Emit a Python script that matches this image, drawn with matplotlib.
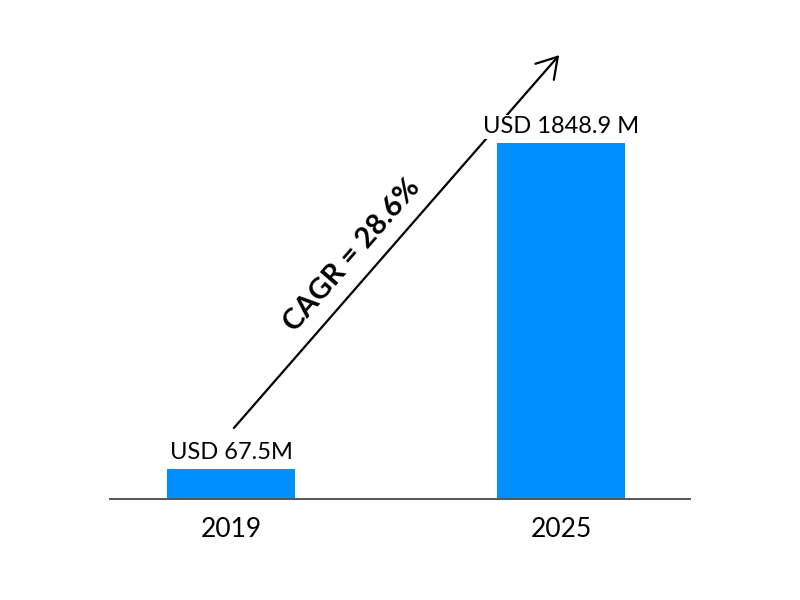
"""Market size bars 2019 vs 2025 with a CAGR arrow."""

import matplotlib.pyplot as plt
from matplotlib.patches import FancyArrowPatch

years = ['2019', '2025']
values = [67.5, 1848.9]            # USD million
value_labels = ['USD 67.5M', 'USD 1848.9 M']
# the picture does not draw the bars to scale; this is the drawn height
bar_heights = [156, 1848.9]
cagr_label = 'CAGR = 28.6%'

BAR_COLOR = '#008fff'

fig = plt.figure(figsize=(8, 6), dpi=100)
ax = fig.add_axes([110 / 800, 101 / 600, 580 / 800, 456 / 600])

x = list(range(len(years)))
ax.bar(x, bar_heights, width=0.388, color=BAR_COLOR, zorder=2)

ax.set_xlim(-0.367, 1.391)
ax.set_ylim(0, 1848.9 * 456 / 356)

# only the bottom spine is kept, as a grey baseline
for side in ('left', 'right', 'top'):
    ax.spines[side].set_visible(False)
ax.spines['bottom'].set_color('#555555')
ax.spines['bottom'].set_linewidth(1.4)
ax.set_yticks([])
ax.set_xticks(x, years, fontsize=19, family='Lato')
ax.tick_params(axis='x', length=0, pad=13)

# value labels above the bars
for xi, h, lab in zip(x, bar_heights, value_labels):
    ax.text(xi, h + 30, lab, ha='center', va='bottom', fontsize=17,
            family='Lato', zorder=4,
            bbox=dict(facecolor='white', edgecolor='none', pad=1))

# growth arrow from the first label to beyond the second bar
arrow = FancyArrowPatch((x[0] + 0.003, bar_heights[0] + 202),
                        (x[1], 2316),
                        arrowstyle='->,head_length=9,head_width=5.5',
                        mutation_scale=1.6, color='black', lw=1.6,
                        zorder=3, clip_on=False)
ax.add_patch(arrow)

ax.text(0.367, 1267, cagr_label, rotation=48.9, rotation_mode='anchor',
        ha='center', va='center', fontsize=21, fontweight='bold',
        family='Lato')

fig.savefig('out.png', dpi=100, facecolor='white')
